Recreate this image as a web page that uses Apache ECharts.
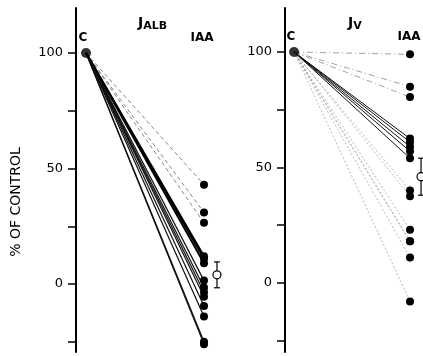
<!DOCTYPE html>
<html>
<head>
<meta charset="utf-8">
<script src="https://cdn.jsdelivr.net/npm/echarts@6/dist/echarts.min.js"></script>
<style>html,body{margin:0;padding:0;background:#fff;}#c{width:423px;height:356px;}</style>
</head>
<body>
<div id="c"></div>
<script>
// ---- data ----
var categories = ['C', 'IAA'];
var controlValue = 100;
var albIAA = [43, 31, 26.5, 12, 11, 9, 1.5, -1.5, -3.5, -5.5, -9.5, -14, -25, -26];
var albMean = 4, albErr = 5.6;
var jvIAA = [99, 85, 80.5, 62.5, 61, 59, 57, 54, 40, 37.5, 23, 18, 18, 11, -8];
var jvMean = 46, jvErr = 8;
var yTicks = [-25, 0, 25, 50, 75, 100];
var yLabels = [0, 50, 100];

var FONT = 'DejaVu Sans';
var chart = echarts.init(document.getElementById('c'), null, {renderer: 'canvas'});

function lineStyleAlb(i, v) {
  if (v > 20) return {color: '#666', width: 0.8, type: [4, 3]};
  if (v > 5) return {color: '#000', width: 2};
  return {color: '#111', width: 1.2};
}
function lineStyleJv(i, v) {
  if (v > 75) return {color: '#888', width: 0.8, type: [6, 3, 1, 3]};
  if (v > 50) return {color: '#111', width: 1};
  return {color: '#999', width: 0.7, type: [2, 2]};
}

function panel(gi, vals, styleFn, mean, err, meanX) {
  var s = [];
  vals.forEach(function (v, i) {
    s.push({
      type: 'line', xAxisIndex: gi, yAxisIndex: gi, silent: true,
      data: [[0, controlValue], [1, v]], showSymbol: false, symbol: 'none',
      lineStyle: styleFn(i, v), z: 2, animation: false
    });
  });
  s.push({
    type: 'scatter', xAxisIndex: gi, yAxisIndex: gi, data: [[0, controlValue]],
    symbolSize: 10, itemStyle: {color: '#000'}, z: 5, animation: false
  });
  s.push({
    type: 'scatter', xAxisIndex: gi, yAxisIndex: gi, data: vals.map(function (v) { return [1, v]; }),
    symbolSize: 8, itemStyle: {color: '#000', opacity: 1}, z: 5, animation: false
  });
  s.push({
    type: 'custom', xAxisIndex: gi, yAxisIndex: gi, clip: false, animation: false, z: 6,
    data: [[meanX, mean, mean - err, mean + err]],
    renderItem: function (params, api) {
      var lo = api.coord([api.value(0), api.value(2)]);
      var hi = api.coord([api.value(0), api.value(3)]);
      var c = api.coord([api.value(0), api.value(1)]);
      var st = {stroke: '#000', lineWidth: 1.2};
      return {type: 'group', children: [
        {type: 'line', shape: {x1: lo[0], y1: lo[1], x2: hi[0], y2: hi[1]}, style: st},
        {type: 'line', shape: {x1: lo[0] - 3, y1: lo[1], x2: lo[0] + 3, y2: lo[1]}, style: st},
        {type: 'line', shape: {x1: hi[0] - 3, y1: hi[1], x2: hi[0] + 3, y2: hi[1]}, style: st},
        {type: 'circle', shape: {cx: c[0], cy: c[1], r: 4}, style: {fill: '#fff', stroke: '#000', lineWidth: 1.2}}
      ]};
    }
  });
  return s;
}

function yAxis(gi, min, max) {
  return {
    type: 'value', gridIndex: gi, min: min, max: max,
    splitLine: {show: false},
    axisLine: {show: true, onZero: false, lineStyle: {color: '#000', width: 2}},
    axisTick: {show: true, customValues: yTicks, length: 8, lineStyle: {color: '#000', width: 1.5}},
    axisLabel: {show: true, customValues: yLabels, margin: 13, color: '#000', fontFamily: FONT, fontSize: 13}
  };
}

var option = {
  backgroundColor: '#fff',
  animation: false,
  grid: [
    {left: 76, top: 8, width: 149, height: 344},
    {left: 285, top: 8, width: 138, height: 344}
  ],
  xAxis: [
    {type: 'value', gridIndex: 0, min: -0.085, max: 1.178, show: false},
    {type: 'value', gridIndex: 1, min: -0.078, max: 1.112, show: false}
  ],
  yAxis: [yAxis(0, -29.4, 119.5), yAxis(1, -29.9, 119.05)],
  series: [].concat(
    panel(0, albIAA, lineStyleAlb, albMean, albErr, 1.11),
    panel(1, jvIAA, lineStyleJv, jvMean, jvErr, 1.095)
  ),
  graphic: [
    {type: 'text', x: 16, y: 202, rotation: Math.PI / 2, style: {text: '% OF CONTROL', fontFamily: FONT, fontSize: 14, fill: '#000', align: 'center', verticalAlign: 'middle'}},
    {type: 'text', x: 83, y: 38, style: {text: categories[0], fontFamily: FONT, fontSize: 12, fontWeight: 'bold', fill: '#000', align: 'center', verticalAlign: 'middle'}},
    {type: 'text', x: 202, y: 38, style: {text: categories[1], fontFamily: FONT, fontSize: 12, fontWeight: 'bold', fill: '#000', align: 'center', verticalAlign: 'middle'}},
    {type: 'text', x: 291, y: 37, style: {text: categories[0], fontFamily: FONT, fontSize: 12, fontWeight: 'bold', fill: '#000', align: 'center', verticalAlign: 'middle'}},
    {type: 'text', x: 409, y: 37, style: {text: categories[1], fontFamily: FONT, fontSize: 12, fontWeight: 'bold', fill: '#000', align: 'center', verticalAlign: 'middle'}},
    {type: 'text', x: 138, y: 14, style: {text: '{j|J}{s|ALB}', fill: '#000', rich: {
      j: {fontFamily: FONT, fontSize: 14, fontWeight: 'bold'},
      s: {fontFamily: FONT, fontSize: 11, fontWeight: 'bold', padding: [7, 0, 0, 0]}}}},
    {type: 'text', x: 348, y: 14, style: {text: '{j|J}{s|V}', fill: '#000', rich: {
      j: {fontFamily: FONT, fontSize: 14, fontWeight: 'bold'},
      s: {fontFamily: FONT, fontSize: 11, fontWeight: 'bold', padding: [7, 0, 0, 0]}}}}
  ]
};
chart.setOption(option);
</script>
</body>
</html>
